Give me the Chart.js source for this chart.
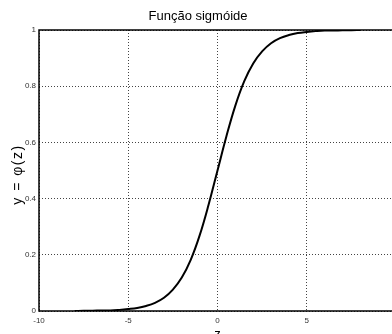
<!DOCTYPE html>
<html>
<head>
<meta charset="utf-8">
<script src="https://cdn.jsdelivr.net/npm/chart.js@4/dist/chart.umd.min.js"></script>
<style>
  html, body { margin: 0; padding: 0; background: #fff; overflow: hidden; }
  #wrap { position: relative; width: 400px; height: 334px; }
</style>
</head>
<body>
<div id="wrap"><canvas id="sigChart"></canvas></div>
<script>
// values
const zValues = [-8, -7.5, -7, -6.5, -6, -5.5, -5, -4.5, -4, -3.5, -3, -2.5, -2, -1.5, -1, -0.5,
  0, 0.5, 1, 1.5, 2, 2.5, 3, 3.5, 4, 4.5, 5, 5.5, 6, 6.5, 7, 7.5, 8];
const yValues = [0.000, 0.001, 0.001, 0.002, 0.002, 0.004, 0.007, 0.011, 0.018, 0.029, 0.047, 0.076, 0.119, 0.182, 0.269, 0.378,
  0.5, 0.622, 0.731, 0.818, 0.881, 0.924, 0.953, 0.971, 0.982, 0.989, 0.993, 0.996, 0.998, 0.998, 0.999, 0.999, 1.0];
const xTicks = [-10, -5, 0, 5];
const yTicks = [0, 0.2, 0.4, 0.6, 0.8, 1];
const xLabel = "z";
const yLabel = "y = φ(z)";

const points = zValues.map((z, i) => ({ x: z, y: yValues[i] }));
const fontFamily = "'Liberation Sans', Arial, Helvetica, sans-serif";

// box around the plot area + axis titles
const frame = {
  id: "frame",
  afterDraw(chart) {
    const { ctx, chartArea: a } = chart;
    ctx.save();
    ctx.strokeStyle = "#000";
    ctx.lineWidth = 1.5;
    ctx.strokeRect(a.left, a.top, a.right - a.left, a.bottom - a.top);

    ctx.fillStyle = "#000";
    ctx.textAlign = "center";
    ctx.textBaseline = "middle";
    ctx.font = "13px " + fontFamily;
    ctx.fillText(xLabel, chart.scales.x.getPixelForValue(0), a.bottom + 23);

    ctx.translate(18, (a.top + a.bottom) / 2 + 4);
    ctx.rotate(-Math.PI / 2);
    ctx.font = "14px " + fontFamily;
    ctx.letterSpacing = "1.5px";
    ctx.fillText(yLabel, 0, 0);
    ctx.restore();
  }
};

new Chart(document.getElementById("sigChart"), {
  type: "line",
  data: {
    datasets: [{
      data: points,
      borderColor: "#000",
      borderWidth: 2,
      pointRadius: 0,
      tension: 0.4,
      fill: false
    }]
  },
  options: {
    responsive: true,
    maintainAspectRatio: false,
    animation: false,
    layout: { padding: { left: 0, top: 0, right: 4, bottom: 0 } },
    plugins: {
      legend: { display: false },
      tooltip: { enabled: false },
      title: {
        display: true,
        text: "Função sigmóide",
        color: "#000",
        font: { family: fontFamily, size: 13, weight: "normal" },
        padding: { top: 9, bottom: 5.4 }
      }
    },
    scales: {
      x: {
        type: "linear",
        min: -10,
        max: 10,
        afterBuildTicks(scale) { scale.ticks = xTicks.map(v => ({ value: v })); },
        afterFit(scale) { scale.height = 23; },
        ticks: { color: "#333", padding: 5, font: { family: fontFamily, size: 8 }, maxRotation: 0 },
        grid: { color: "#444", drawTicks: false, lineWidth: 1 },
        border: { display: false, dash: [1, 2] }
      },
      y: {
        type: "linear",
        min: 0,
        max: 1,
        afterBuildTicks(scale) { scale.ticks = yTicks.map(v => ({ value: v })); },
        afterFit(scale) { scale.width = 39; },
        ticks: { color: "#333", padding: 3, font: { family: fontFamily, size: 8 },
          callback: v => String(v) },
        grid: { color: "#444", drawTicks: false, lineWidth: 1 },
        border: { display: false, dash: [1, 2] }
      }
    }
  },
  plugins: [frame]
});
</script>
</body>
</html>
